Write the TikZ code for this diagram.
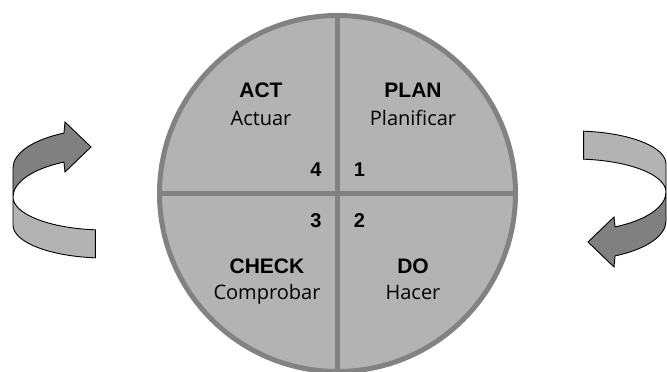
\documentclass[tikz,border=0pt]{standalone}
\usepackage{fontspec}
\setmainfont{Open Sans}
\newfontfamily\headfont{Liberation Sans}
\usetikzlibrary{positioning, calc}
\definecolor{wheelfill}{HTML}{B3B3B3}
\definecolor{wheelline}{HTML}{828282}
\definecolor{banddark}{HTML}{808080}
\definecolor{bandlight}{HTML}{B3B3B3}

% ribbon arrow turning round the wheel (left copy, px units)
\newcommand{\turnarrow}{%
    % lower, light part of the ribbon
    \draw[lightband] (13,-197)
        arc[start angle=180, end angle=264, x radius=92pt, y radius=33pt]
        -- ++(0,-28)
        arc[start angle=264, end angle=180, x radius=92pt, y radius=33pt]
        -- cycle;
    % upper, dark part with the head
    \draw[darkband] (13,-168)
        arc[start angle=180, end angle=116.5, x radius=92pt, y radius=39pt]
        -- (65,-122) -- (91,-147) -- (65,-172) -- (63.95,-162.1)
        arc[start angle=116.5, end angle=180, x radius=92pt, y radius=39pt]
        -- cycle;
}

\begin{document}
\begin{tikzpicture}[
    x=1pt, y=1pt,
    % ── Node styles ──────────────────────────────────────────────────────
    wheel/.style={
        circle, minimum size=356pt, inner sep=0pt,
        fill=wheelfill, draw=wheelline, line width=5pt
    },
    phase/.style={
        font=\fontsize{21}{25}\selectfont\headfont\bfseries,
        inner sep=0pt, anchor=base
    },
    phasesub/.style={
        font=\fontsize{20}{24}\selectfont,
        inner sep=0pt
    },
    stepno/.style={
        font=\fontsize{20}{24}\selectfont\headfont\bfseries,
        inner sep=0pt, anchor=base
    },
    % ── Line styles ──────────────────────────────────────────────────────
    divider/.style={draw=wheelline, line width=5pt},
    lightband/.style={fill=bandlight, draw=black, line width=0.9pt},
    darkband/.style={fill=banddark, draw=black, line width=0.9pt}
]
\useasboundingbox (0,0) rectangle (667,-372);

% ═══════════════════════════════════════════════════════════════════════════
% Wheel
% ═══════════════════════════════════════════════════════════════════════════
\node[wheel] (wheel) at (337.5,-193.5) {};
\draw[divider] (wheel.north) -- (wheel.south);
\draw[divider] (wheel.west)  -- (wheel.east);

% ═══════════════════════════════════════════════════════════════════════════
% Quadrants
% ═══════════════════════════════════════════════════════════════════════════

% Top left — Act
\node[phase] (act) at (261,-97) {ACT};
\node[phasesub, below=28pt of act.base, anchor=base] (actuar) {Actuar};

% Top right — Plan
\node[phase] (plan) at (413,-97) {PLAN};
\node[phasesub, below=28pt of plan.base, anchor=base] (planificar) {Planificar};

% Bottom left — Check
\node[phase] (check) at (267,-273) {CHECK};
\node[phasesub, below=26pt of check.base, anchor=base] (comprobar) {Comprobar};

% Bottom right — Do
\node[phase] (do) at (413,-273) {DO};
\node[phasesub, below=26pt of do.base, anchor=base] (hacer) {Hacer};

% Step numbers round the centre
\node[stepno] (n4) at ($(wheel.center)+(-21.5,17.5)$) {4};
\node[stepno] (n1) at ($(wheel.center)+(22,17.5)$)    {1};
\node[stepno] (n3) at ($(wheel.center)+(-21.5,-34.2)$) {3};
\node[stepno] (n2) at ($(wheel.center)+(22,-34.2)$)   {2};

% ═══════════════════════════════════════════════════════════════════════════
% Turning arrows
% ═══════════════════════════════════════════════════════════════════════════
\turnarrow
\begin{scope}[rotate around={180:(339.5,-194.5)}]
    \turnarrow
\end{scope}

\end{tikzpicture}
\end{document}
